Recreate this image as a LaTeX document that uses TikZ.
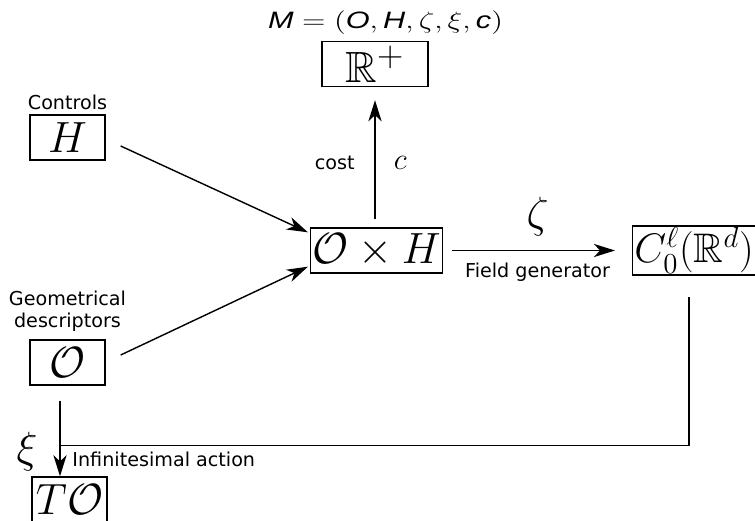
\RequirePackage{fix-cm}
\documentclass[tikz,border=0pt]{standalone}
\usepackage{fontspec}
\usepackage{amsmath,amssymb}
\usepackage{graphicx}
\setsansfont{DejaVu Sans}
\newfontfamily\titlesans{Liberation Sans}
\DeclareFontFamily{U}{msb}{}
\DeclareFontShape{U}{msb}{m}{n}{<-6> msbm5 <6-8> msbm7 <8-> msbm10}{}
\usetikzlibrary{arrows.meta, positioning, calc}

\tikzset{
  font=\sffamily\fontsize{10.9}{12.8}\selectfont,
  >={Stealth[length=12pt, width=7.5pt, inset=3.5pt]},
  %
  setbox/.style={draw, line width=0.8pt, inner sep=1pt, minimum height=0.9cm,
                 font=\Huge},
  %
  map/.style={line width=0.8pt, ->},
  link/.style={line width=0.8pt},
  %
  lbl/.style={inner sep=1pt, align=center},
  sym/.style={inner sep=1pt, font=\Huge},
}
\newcommand{\tl}[1]{\text{\titlesans\itshape #1}}

\begin{document}
\begin{tikzpicture}[x=0.02cm, y=-0.02cm]
  \useasboundingbox (0,0) rectangle (755,521);

  \def\L{67.5}    % inputs column
  \def\Mid{376.5} % product column

  % --- the cost ----------------------------------------------------------
  \node[lbl, anchor=base, font=\fontsize{13.5}{16}\selectfont] (model) at (385.5,28)
    {\resizebox{4.7cm}{\height}{$\tl{M} = (\tl{O}, \tl{H}, \zeta, \xi, \tl{c})$}};
  \node[setbox, minimum width=2.12cm] (rplus) at (375,64) {$\mathbb{R}^+$};

  % --- inputs ------------------------------------------------------------
  \node[lbl] (controls) at (\L,102) {Controls};
  \node[setbox, minimum width=1.5cm] (hbox) at (\L,137.5) {$H$};
  \node[lbl] (geom) at (\L,311) {Geometrical\\descriptors};
  \node[setbox, minimum width=1.5cm] (obox) at (\L,362.5) {$\mathcal{O}$};

  % --- product, fields, tangent ------------------------------------------
  \node[setbox, minimum width=2.46cm] (oh) at (\Mid,250.5) {$\mathcal{O}\times H$};
  \node[setbox, anchor=west, font=\fontsize{23.5}{28}\selectfont] (cbox) at (632,250.5)
    {$C_0^\ell(\mathbb{R}^d)$};
  \node[setbox, minimum width=1.5cm] (tbox) at (69.5,499.5) {$T\mathcal{O}$};

  % --- maps --------------------------------------------------------------
  \draw[map] ([shift={(15,8.5)}]hbox.east) -- ([shift={(-2,5)}]oh.north west);
  \draw[map] ([shift={(15,-7.5)}]obox.east) -- ([shift={(-2,-7)}]oh.south west);

  \draw[map, shorten <=0.16cm, shorten >=0.26cm] (rplus.south |- oh.north) -- (rplus.south)
    node[lbl, pos=0.46, left=0.36cm] {cost}
    node[sym, pos=0.46, right=0.33cm, font=\LARGE] {$c$};

  \draw[map, shorten <=0.18cm, shorten >=0.34cm] (oh) -- (cbox)
    node[sym, midway, above=0.24cm] {$\zeta$}
    node[lbl, midway, below=0.2cm] {Field generator};

  % --- infinitesimal action ----------------------------------------------
  \coordinate (xitop) at ([shift={(-7.5,15)}]obox.south);
  \coordinate (knee) at ($(xitop |- tbox.north)+(0,-31)$);
  \draw[map] (xitop) -- (xitop |- tbox.north)
    node[sym, pos=0.67, left=0.4cm] {$\xi$}
    node[lbl, pos=0.78, right=0.2cm] {Infinitesimal action};
  \draw[link] ([shift={(57,46.5)}]cbox.west) |- (knee);

\end{tikzpicture}
\end{document}
